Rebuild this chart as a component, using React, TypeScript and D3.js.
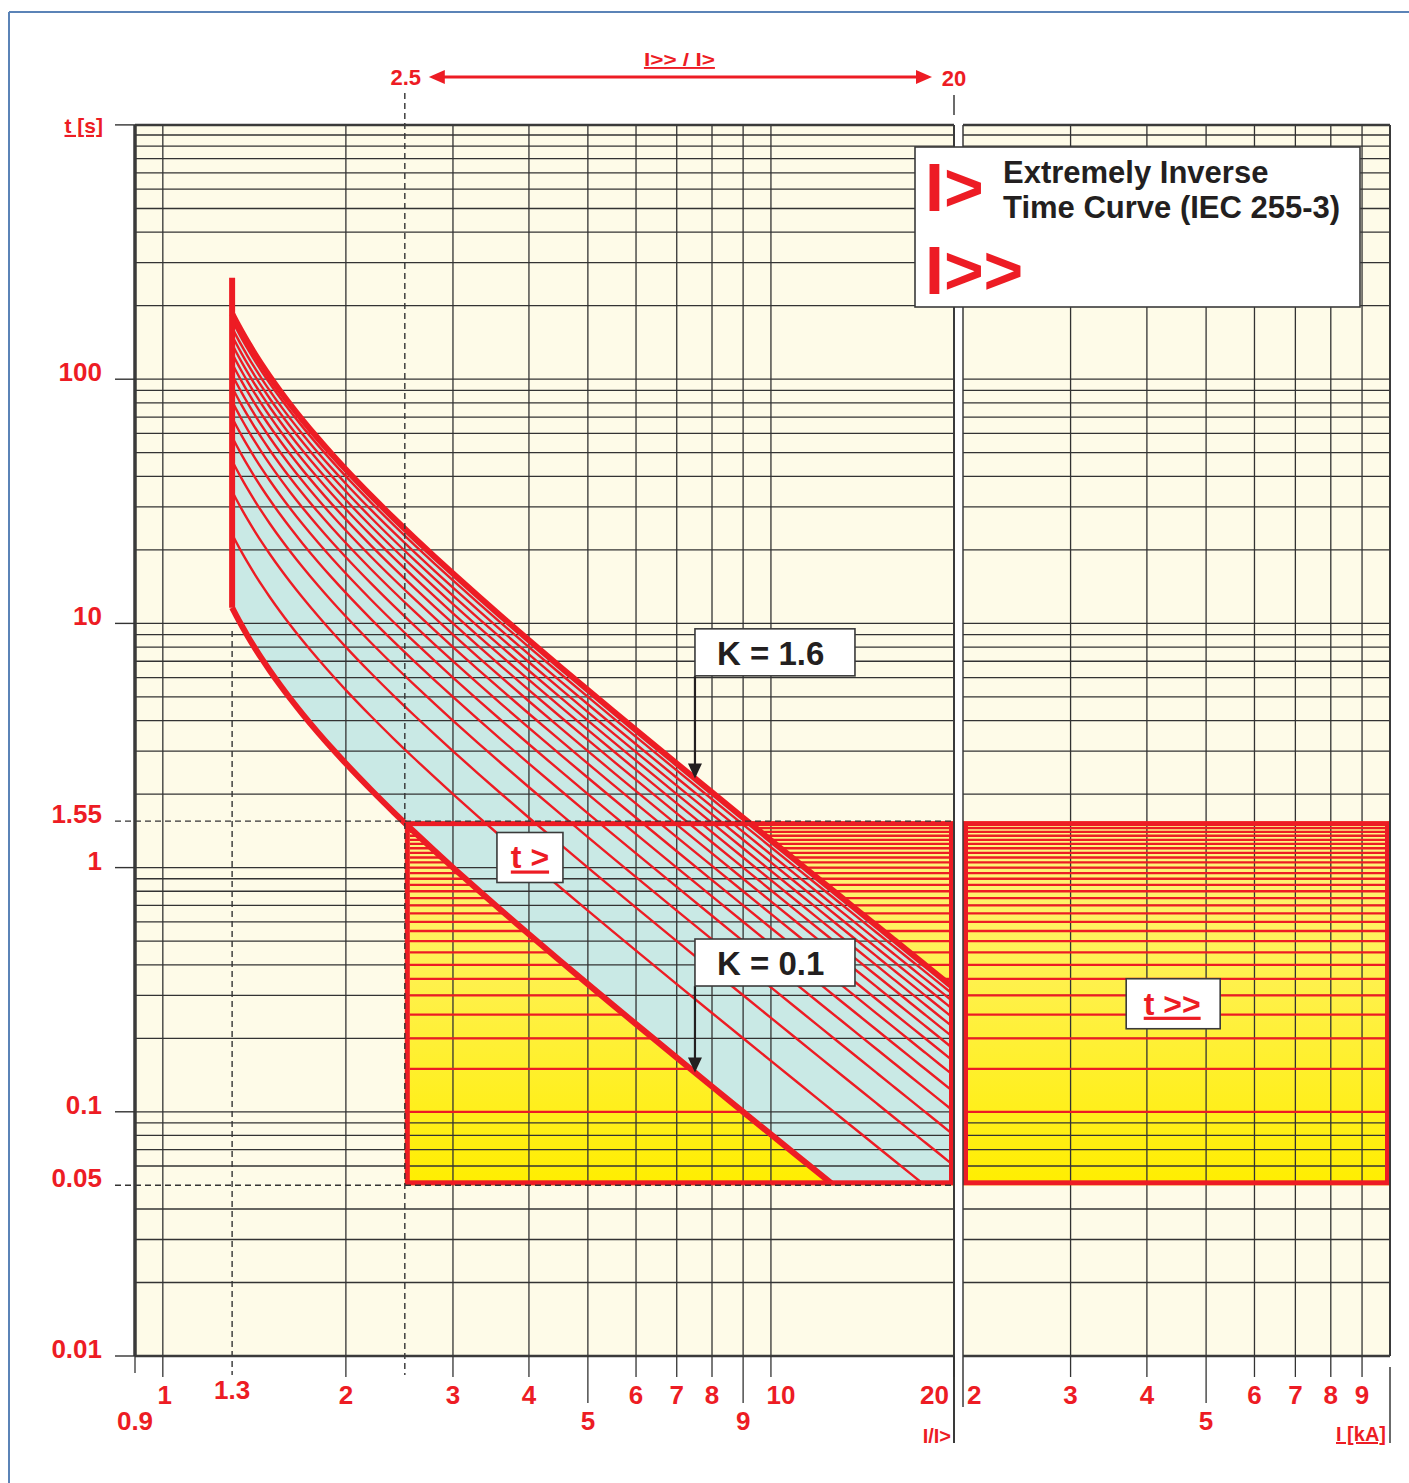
import React from 'react';
import * as d3 from 'd3';

const W = 1409;
const H = 1483;
const RED = '#ed1c24';
const INK = '#231f20';
const GRID = '#333333';
const FONT = '"Liberation Sans", Arial, Helvetica, sans-serif';

// time axis [s], log
const T_DOMAIN = [0.01, 1000];
const T_TOP = 1100; // frame runs a bit past 1000 s
const T_TICKS = [100, 10, 1.55, 1, 0.1, 0.05, 0.01];
const T_TICK_LABELS = ['100', '10', '1.55', '1', '0.1', '0.05', '0.01'];
const T_MARKERS = [1.55, 0.05]; // dashed setting lines

// I/I> axis (left panel), log
const I_DOMAIN = [0.9, 20];
const I_GRID = [1, 2, 3, 4, 5, 6, 7, 8, 9, 10, 20];
const I_TICKS = [0.9, 1, 1.3, 2, 3, 4, 5, 6, 7, 8, 9, 10, 20];
const I_TICK_LABELS = ['0.9', '1', '1.3', '2', '3', '4', '5', '6', '7', '8', '9', '10', '20'];

// I [kA] axis (right panel), log
const KA_DOMAIN = [2, 10];
const KA_GRID = [3, 4, 5, 6, 7, 8, 9];
const KA_TICKS = [2, 3, 4, 5, 6, 7, 8, 9];
const KA_TICK_LABELS = ['2', '3', '4', '5', '6', '7', '8', '9'];

// IEC 255-3 extremely inverse: t = K * 80 / ((I/I>)^2 - 1)
const IEC_CONST = 80;
const IEC_ALPHA = 2;
const K_VALUES = [0.1, 0.2, 0.3, 0.4, 0.5, 0.6, 0.7, 0.8, 0.9, 1.0, 1.1, 1.2, 1.3, 1.4, 1.5, 1.6];
const I_SAMPLES = [
  1.3, 1.32, 1.35, 1.38, 1.42, 1.46, 1.5, 1.56, 1.62, 1.7, 1.8, 1.9, 2, 2.2, 2.4, 2.6, 2.8, 3,
  3.3, 3.6, 4, 4.5, 5, 5.5, 6, 7, 8, 9, 10, 11, 12, 13, 14, 15, 16, 17, 18, 19, 20,
];
const I_PICKUP = 1.3;
const T_CURVE_TOP = 260;

// I>> / t>> setting ranges
const I_HIGH_RANGE = [2.5, 20];
const T_HIGH_RANGE = [0.05, 1.55];
const T_STEPS = [
  0.1, 0.15, 0.2, 0.25, 0.3, 0.35, 0.4, 0.45, 0.5, 0.55, 0.6, 0.65, 0.7, 0.75, 0.8, 0.85, 0.9,
  0.95, 1.0, 1.05, 1.1, 1.15, 1.2, 1.25, 1.3, 1.35, 1.4, 1.45, 1.5,
];

// annotation anchors (data units)
const K_NOTES = [
  { k: 1.6, text: 'K = 1.6', boxT: 9.5 },
  { k: 0.1, text: 'K = 0.1', boxT: 0.51 },
];
const K_ARROW_I = 7.5;
const T_LOW_NOTE = { i: 4.0, t: 1.1, text: 't >' };
const T_HIGH_NOTE = { ka: 4.4, t: 0.277, text: 't >>' };

const trip = (k: number, i: number) => (k * IEC_CONST) / (Math.pow(i, IEC_ALPHA) - 1);

export default function App() {
  const xL = d3.scaleLog().domain(I_DOMAIN).range([135, 954]);
  const xR = d3.scaleLog().domain(KA_DOMAIN).range([963, 1390]);
  const y = d3.scaleLog().domain(T_DOMAIN).range([1356, 135]);

  const top = y(T_TOP);
  const bottom = y(T_DOMAIN[0]);
  const lx0 = xL(I_DOMAIN[0]);
  const lx1 = xL(I_DOMAIN[1]);
  const rx0 = xR(KA_DOMAIN[0]);
  const rx1 = xR(KA_DOMAIN[1]);

  const hGrid = y.ticks().filter((v) => !T_MARKERS.some((m) => Math.abs(m - v) < 1e-9));

  const kMin = K_VALUES[0];
  const kMax = K_VALUES[K_VALUES.length - 1];

  const curve = (k: number) =>
    d3
      .line<number>()
      .x((i) => xL(i))
      .y((i) => y(trip(k, i)))
      .curve(d3.curveMonotoneX)(I_SAMPLES) || '';

  const blueArea =
    d3
      .area<number>()
      .x((i) => xL(i))
      .y0((i) => y(Math.max(trip(kMin, i), T_HIGH_RANGE[0])))
      .y1((i) => y(trip(kMax, i)))
      .curve(d3.curveMonotoneX)(I_SAMPLES) || '';

  const bx0 = xL(I_HIGH_RANGE[0]);
  const bx1 = xL(I_HIGH_RANGE[1]);
  const by0 = y(T_HIGH_RANGE[1]);
  const by1 = y(T_HIGH_RANGE[0]);

  const labelStyle = {
    fontFamily: FONT,
    fontWeight: 700,
    fill: RED,
  } as const;

  const lowerRow = (v: number) => v === 0.9 || v === 5 || v === 9;

  const arrowHead = (x: number, yy: number) =>
    `M${x},${yy} L${x - 7},${yy - 15} L${x + 7},${yy - 15} Z`;

  return (
    <svg
      width={W}
      height={H}
      viewBox={`0 0 ${W} ${H}`}
      style={{ position: 'absolute', left: 0, top: 0, background: '#fff' }}
    >
      <defs>
        <linearGradient id="yel" x1="0" y1="0" x2="0" y2="1">
          <stop offset="0" stopColor="#fff387" />
          <stop offset="1" stopColor="#ffee00" />
        </linearGradient>
        <clipPath id="curveClip">
          <rect x={xL(I_PICKUP) - 6} y={0} width={lx1 - xL(I_PICKUP) + 6} height={by1} />
        </clipPath>
        <mask id="noBlue">
          <rect x={0} y={0} width={W} height={H} fill="#fff" />
          <path d={blueArea} fill="#000" clipPath="url(#curveClip)" />
        </mask>
      </defs>

      {/* page frame */}
      <line x1={9} y1={12} x2={9} y2={H} stroke="#5b83b7" strokeWidth={2} />
      <line x1={9} y1={12} x2={W} y2={12} stroke="#5b83b7" strokeWidth={2} />

      {/* panels */}
      <rect x={lx0} y={top} width={lx1 - lx0} height={bottom - top} fill="#fefbe8" />
      <rect x={rx0} y={top} width={rx1 - rx0} height={bottom - top} fill="#fefbe8" />

      {/* yellow setting boxes */}
      <rect x={bx0} y={by0} width={bx1 - bx0} height={by1 - by0} fill="url(#yel)" />
      <rect x={rx0} y={by0} width={rx1 - rx0} height={by1 - by0} fill="url(#yel)" />

      {/* band of curves */}
      <path d={blueArea} fill="#c9e9e5" clipPath="url(#curveClip)" />

      {/* grid */}
      <g stroke={GRID} strokeWidth={1.3}>
        {hGrid.map((v, idx) => (
          <g key={`h${idx}`}>
            <line x1={lx0} x2={lx1} y1={y(v)} y2={y(v)} />
            <line x1={rx0} x2={rx1} y1={y(v)} y2={y(v)} />
          </g>
        ))}
        {I_GRID.map((v) => (
          <line key={`vl${v}`} x1={xL(v)} x2={xL(v)} y1={top} y2={bottom} />
        ))}
        {KA_GRID.map((v) => (
          <line key={`vr${v}`} x1={xR(v)} x2={xR(v)} y1={top} y2={bottom} />
        ))}
      </g>

      {/* t>> step lines */}
      <g stroke={RED} strokeWidth={2.3} mask="url(#noBlue)">
        {T_STEPS.map((t) => (
          <g key={`s${t}`}>
            <line x1={bx0 + 5} x2={bx1 - 5} y1={y(t)} y2={y(t)} />
            <line x1={rx0 + 5} x2={rx1 - 5} y1={y(t)} y2={y(t)} />
          </g>
        ))}
      </g>

      {/* curves */}
      <g clipPath="url(#curveClip)" fill="none" stroke={RED}>
        {K_VALUES.slice(1, -1).map((k) => (
          <path key={`k${k}`} d={curve(k)} strokeWidth={2.4} />
        ))}
        <path d={curve(kMin)} strokeWidth={6} />
        <path d={curve(kMax)} strokeWidth={6} />
        <line
          x1={xL(I_PICKUP)}
          x2={xL(I_PICKUP)}
          y1={y(T_CURVE_TOP)}
          y2={y(trip(kMin, I_PICKUP))}
          strokeWidth={6}
        />
      </g>

      {/* red borders of setting boxes */}
      <rect
        x={bx0 + 2.5}
        y={by0 + 2.5}
        width={bx1 - bx0 - 5}
        height={by1 - by0 - 5}
        fill="none"
        stroke={RED}
        strokeWidth={5}
      />
      <rect
        x={rx0 + 2.5}
        y={by0 + 2.5}
        width={rx1 - rx0 - 5}
        height={by1 - by0 - 5}
        fill="none"
        stroke={RED}
        strokeWidth={5}
      />

      {/* dashed marker lines */}
      <g stroke={GRID} strokeWidth={1.4} strokeDasharray="6,4" fill="none">
        {T_MARKERS.map((t) => (
          <line key={`m${t}`} x1={115} x2={lx1} y1={y(t)} y2={y(t)} />
        ))}
        <line x1={bx0} x2={bx0} y1={93} y2={bottom + 19} />
        <line x1={xL(I_PICKUP)} x2={xL(I_PICKUP)} y1={y(9.3)} y2={bottom + 19} />
      </g>

      {/* panel frames */}
      <g fill="none" stroke="#3a3a3a">
        <line x1={lx0} x2={lx1} y1={top} y2={top} strokeWidth={2.5} />
        <line x1={lx0} x2={lx1} y1={bottom} y2={bottom} strokeWidth={2.5} />
        <line x1={lx0} x2={lx0} y1={top} y2={bottom} strokeWidth={3.5} />
        <line x1={lx1} x2={lx1} y1={top} y2={H - 40} strokeWidth={2} />
        <line x1={rx0} x2={rx1} y1={top} y2={top} strokeWidth={2.5} />
        <line x1={rx0} x2={rx1} y1={bottom} y2={bottom} strokeWidth={2.5} />
        <line x1={rx0} x2={rx0} y1={top} y2={bottom + 51} strokeWidth={1.5} />
        <line x1={rx1} x2={rx1} y1={top} y2={bottom} strokeWidth={2} />
        <line x1={rx1} x2={rx1} y1={bottom + 11} y2={H - 40} strokeWidth={1.5} />
        <line x1={lx1} x2={lx1} y1={95} y2={115} strokeWidth={1.5} />
      </g>

      {/* time ticks + labels */}
      <g stroke={GRID} strokeWidth={1.4}>
        {T_TICKS.filter((t) => !T_MARKERS.includes(t)).map((t) => (
          <line key={`tt${t}`} x1={115} x2={lx0} y1={y(t)} y2={y(t)} />
        ))}
        <line x1={115} x2={lx0} y1={top} y2={top} />
      </g>
      {T_TICKS.map((t, idx) => (
        <text key={`tl${t}`} x={102} y={y(t) + 2} textAnchor="end" fontSize={26} style={labelStyle}>
          {T_TICK_LABELS[idx]}
        </text>
      ))}
      <text
        x={103}
        y={top + 8}
        textAnchor="end"
        fontSize={21}
        style={{ ...labelStyle, textDecoration: 'underline' }}
      >
        t [s]
      </text>

      {/* current ticks + labels */}
      <g stroke={GRID} strokeWidth={1.3}>
        {I_TICKS.filter((v) => v !== I_PICKUP).map((v) => (
          <line
            key={`it${v}`}
            x1={xL(v)}
            x2={xL(v)}
            y1={bottom}
            y2={bottom + (v === 0.9 ? 17 : lowerRow(v) ? 47 : 21)}
          />
        ))}
        {KA_TICKS.slice(1).map((v) => (
          <line key={`kt${v}`} x1={xR(v)} x2={xR(v)} y1={bottom} y2={bottom + (v === 5 ? 47 : 21)} />
        ))}
      </g>
      {I_TICKS.map((v, idx) => {
        const last = idx === I_TICKS.length - 1;
        const dx = v === 10 ? 10 : v === 1 ? 2 : 0;
        return (
          <text
            key={`il${v}`}
            x={last ? xL(v) - 5 : xL(v) + dx}
            y={lowerRow(v) ? 1430 : v === I_PICKUP ? 1399 : 1404}
            textAnchor={last ? 'end' : 'middle'}
            fontSize={26}
            style={labelStyle}
          >
            {I_TICK_LABELS[idx]}
          </text>
        );
      })}
      {KA_TICKS.map((v, idx) => (
        <text
          key={`kl${v}`}
          x={idx === 0 ? xR(v) + 4 : xR(v)}
          y={v === 5 ? 1430 : 1404}
          textAnchor={idx === 0 ? 'start' : 'middle'}
          fontSize={26}
          style={labelStyle}
        >
          {KA_TICK_LABELS[idx]}
        </text>
      ))}
      <text x={lx1 - 3} y={1443} textAnchor="end" fontSize={20} style={labelStyle}>
        I/I&gt;
      </text>
      <text
        x={rx1 - 4}
        y={1441}
        textAnchor="end"
        fontSize={20}
        style={{ ...labelStyle, textDecoration: 'underline' }}
      >
        I [kA]
      </text>

      {/* I>> / I> range arrow */}
      <text x={bx0 + 1} y={85} textAnchor="middle" fontSize={22} style={labelStyle}>
        2.5
      </text>
      <text x={bx1} y={86} textAnchor="middle" fontSize={22} style={labelStyle}>
        20
      </text>
      <line x1={bx0 + 36} x2={bx1 - 34} y1={77} y2={77} stroke={RED} strokeWidth={3} />
      <path d={`M${bx0 + 24},77 L${bx0 + 40},70 L${bx0 + 40},84 Z`} fill={RED} />
      <path d={`M${bx1 - 22},77 L${bx1 - 38},70 L${bx1 - 38},84 Z`} fill={RED} />
      <text
        x={(bx0 + bx1) / 2}
        y={66}
        textAnchor="middle"
        fontSize={19}
        textLength={71}
        lengthAdjust="spacingAndGlyphs"
        style={{ ...labelStyle, textDecoration: 'underline' }}
      >
        I&gt;&gt; / I&gt;
      </text>

      {/* K annotations */}
      {K_NOTES.map((n) => {
        const ax = xL(K_ARROW_I);
        const tipY = y(trip(n.k, K_ARROW_I));
        const boxY = y(n.boxT);
        return (
          <g key={n.text}>
            <line x1={ax} x2={ax} y1={boxY + 47} y2={tipY - 12} stroke={INK} strokeWidth={2.2} />
            <path d={arrowHead(ax, tipY)} fill={INK} />
            <rect x={ax} y={boxY} width={160} height={47} fill="#fff" stroke="#3a3a3a" strokeWidth={1.6} />
            <text x={ax + 22} y={boxY + 36} fontSize={33} fontFamily={FONT} fontWeight={700} fill={INK}>
              {n.text}
            </text>
          </g>
        );
      })}

      {/* t> and t>> labels */}
      <g>
        <rect
          x={xL(T_LOW_NOTE.i) - 32}
          y={y(T_LOW_NOTE.t) - 25}
          width={66}
          height={50}
          fill="#fff"
          stroke="#3a3a3a"
          strokeWidth={1.6}
        />
        <text
          x={xL(T_LOW_NOTE.i) + 1}
          y={y(T_LOW_NOTE.t) + 11}
          textAnchor="middle"
          fontSize={32}
          style={{ ...labelStyle, textDecoration: 'underline' }}
        >
          {T_LOW_NOTE.text}
        </text>
        <rect
          x={xR(T_HIGH_NOTE.ka) - 46}
          y={y(T_HIGH_NOTE.t) - 25}
          width={94}
          height={50}
          fill="#fff"
          stroke="#3a3a3a"
          strokeWidth={1.6}
        />
        <text
          x={xR(T_HIGH_NOTE.ka)}
          y={y(T_HIGH_NOTE.t) + 11}
          textAnchor="middle"
          fontSize={32}
          style={{ ...labelStyle, textDecoration: 'underline' }}
        >
          {T_HIGH_NOTE.text}
        </text>
      </g>

      {/* legend */}
      <g>
        <rect x={915} y={147} width={445} height={160} fill="#fff" stroke="#3a3a3a" strokeWidth={1.6} />
        <text x={925} y={211} fontSize={68} style={labelStyle}>
          I&gt;
        </text>
        <text x={925} y={294} fontSize={68} style={labelStyle}>
          I&gt;&gt;
        </text>
        <text x={1003} y={183} fontSize={31} fontFamily={FONT} fontWeight={700} fill={INK}>
          Extremely Inverse
        </text>
        <text x={1003} y={218} fontSize={31} fontFamily={FONT} fontWeight={700} fill={INK}>
          Time Curve (IEC 255-3)
        </text>
      </g>
    </svg>
  );
}
